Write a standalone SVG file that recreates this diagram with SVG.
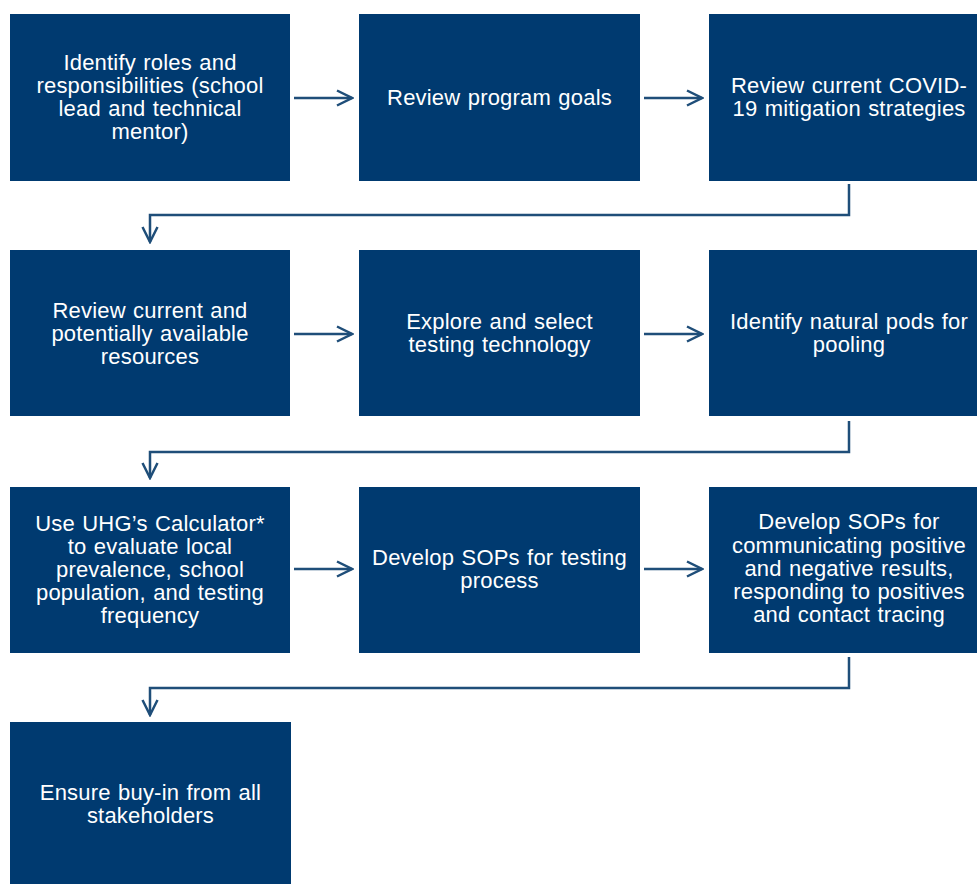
<svg xmlns="http://www.w3.org/2000/svg" width="977" height="884" viewBox="0 0 977 884">
<style>
.box{fill:#003a70}
.t{font-family:"Liberation Sans",Arial,sans-serif;font-size:22px;letter-spacing:0.2px;word-spacing:1px;fill:#ffffff;text-anchor:middle}
.c{fill:none;stroke:#1f4e79;stroke-width:2.5}
</style>
<defs>
<marker id="ah" markerUnits="userSpaceOnUse" viewBox="-16 -9 18 18" refX="0" refY="0" markerWidth="18" markerHeight="18" orient="auto">
<path d="M-15,-7.5 L0,0 L-15,7.5" fill="none" stroke="#1f4e79" stroke-width="2.5"/>
</marker>
</defs>
<rect width="977" height="884" fill="#ffffff"/>
<g id="connectors">
<path class="c" d="M294,98 H352" marker-end="url(#ah)"/>
<path class="c" d="M644,98 H702" marker-end="url(#ah)"/>
<path class="c" d="M849,184 V215 H150 V242" marker-end="url(#ah)"/>
<path class="c" d="M294,334 H352" marker-end="url(#ah)"/>
<path class="c" d="M644,334 H702" marker-end="url(#ah)"/>
<path class="c" d="M849,421 V452 H150 V478" marker-end="url(#ah)"/>
<path class="c" d="M294,569 H352" marker-end="url(#ah)"/>
<path class="c" d="M644,569 H702" marker-end="url(#ah)"/>
<path class="c" d="M849,657 V688 H150 V715" marker-end="url(#ah)"/>
</g>
<g id="n1"><rect class="box" x="10" y="14" width="280" height="167"/>
<text class="t"><tspan x="150" y="70">Identify roles and</tspan><tspan x="150" y="93">responsibilities (school</tspan><tspan x="150" y="116">lead and technical</tspan><tspan x="150" y="139">mentor)</tspan></text></g>
<g id="n2"><rect class="box" x="359" y="14" width="281" height="167"/>
<text class="t"><tspan x="499.5" y="105">Review program goals</tspan></text></g>
<g id="n3"><rect class="box" x="709" y="14" width="280" height="167"/>
<text class="t"><tspan x="849" y="93">Review current COVID-</tspan><tspan x="849" y="116">19 mitigation strategies</tspan></text></g>
<g id="n4"><rect class="box" x="10" y="250" width="280" height="166"/>
<text class="t"><tspan x="150" y="318">Review current and</tspan><tspan x="150" y="341">potentially available</tspan><tspan x="150" y="364">resources</tspan></text></g>
<g id="n5"><rect class="box" x="359" y="250" width="281" height="166"/>
<text class="t"><tspan x="499.5" y="329">Explore and select</tspan><tspan x="499.5" y="352">testing technology</tspan></text></g>
<g id="n6"><rect class="box" x="709" y="250" width="280" height="166"/>
<text class="t"><tspan x="849" y="329">Identify natural pods for</tspan><tspan x="849" y="352">pooling</tspan></text></g>
<g id="n7"><rect class="box" x="10" y="487" width="280" height="166"/>
<text class="t"><tspan x="150" y="531">Use UHG’s Calculator*</tspan><tspan x="150" y="554">to evaluate local</tspan><tspan x="150" y="577">prevalence, school</tspan><tspan x="150" y="600">population, and testing</tspan><tspan x="150" y="623">frequency</tspan></text></g>
<g id="n8"><rect class="box" x="359" y="487" width="281" height="166"/>
<text class="t"><tspan x="499.5" y="565">Develop SOPs for testing</tspan><tspan x="499.5" y="588">process</tspan></text></g>
<g id="n9"><rect class="box" x="709" y="487" width="280" height="166"/>
<text class="t"><tspan x="849" y="529">Develop SOPs for</tspan><tspan x="849" y="553">communicating positive</tspan><tspan x="849" y="576">and negative results,</tspan><tspan x="849" y="599">responding to positives</tspan><tspan x="849" y="622">and contact tracing</tspan></text></g>
<g id="n10"><rect class="box" x="10" y="722" width="281" height="162"/>
<text class="t"><tspan x="150.5" y="800">Ensure buy-in from all</tspan><tspan x="150.5" y="823">stakeholders</tspan></text></g>
</svg>
